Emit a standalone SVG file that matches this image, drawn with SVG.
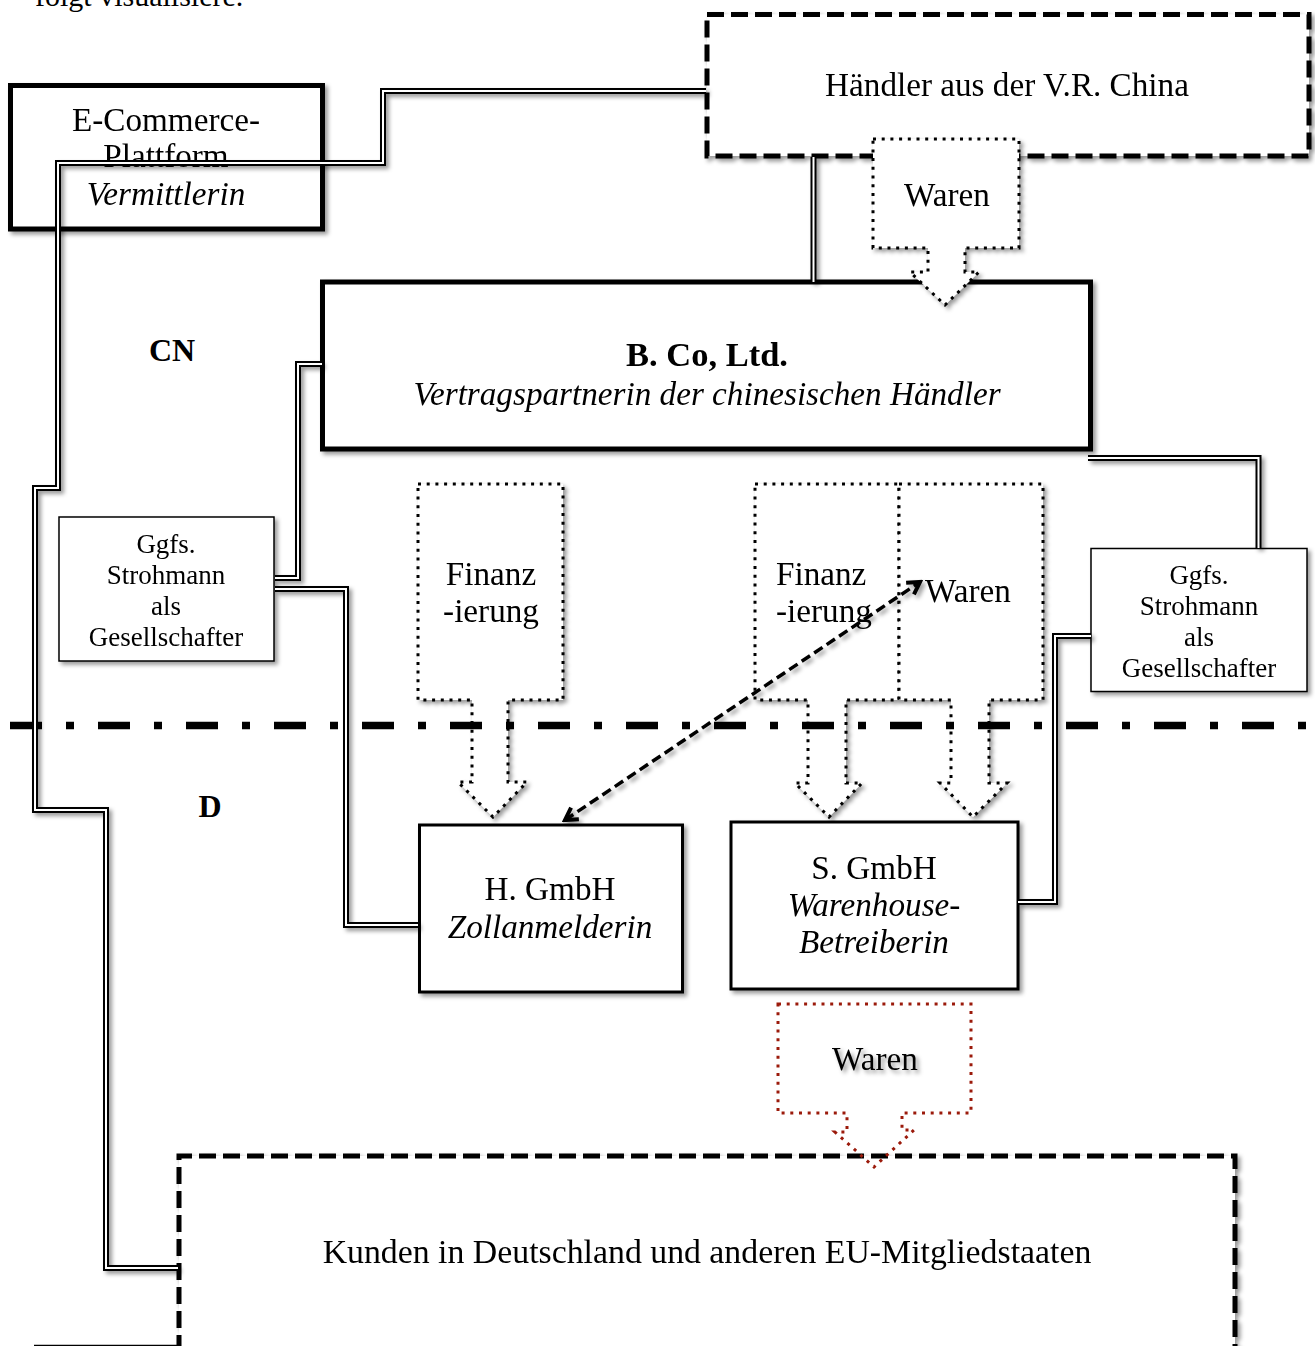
<svg xmlns="http://www.w3.org/2000/svg" xmlns:xlink="http://www.w3.org/1999/xlink" width="1315" height="1346" viewBox="0 0 1315 1346">
<style>
text{font-family:"Liberation Serif","Times New Roman",serif;fill:#000}
.t{font-size:33.2px;text-anchor:middle}
.ts{font-size:27px;text-anchor:middle}
.it{font-style:italic}
.b{font-weight:bold}
.thick{fill:#fff;stroke:#000;stroke-width:5}
.dash{fill:#fff;stroke:#000;stroke-width:5;stroke-dasharray:17 7}
.mid{fill:#fff;stroke:#000;stroke-width:3}
.thin{fill:#fff;stroke:#000;stroke-width:1.5}
.dot{fill:#fff;stroke:#000;stroke-width:3;stroke-dasharray:3 5.7}
.dotr{fill:none;stroke:#9b1a0b;stroke-width:3;stroke-dasharray:3 5.7}
.out{fill:none;stroke:#000;stroke-width:6}
.in{fill:none;stroke:#fff;stroke-width:2}
</style>
<defs>
<filter id="sh" filterUnits="userSpaceOnUse" x="0" y="0" width="1315" height="1346">
<feDropShadow dx="3" dy="3" stdDeviation="2" flood-color="#000" flood-opacity="0.4"/>
</filter>
<marker id="chev" markerUnits="userSpaceOnUse" viewBox="0 0 20 20" refX="17" refY="10" markerWidth="20" markerHeight="20" orient="auto-start-reverse">
<path d="M5,3 L17,10 L5,17" fill="none" stroke="#000" stroke-width="4" stroke-dasharray="none" stroke-linejoin="miter"/>
</marker>
<path id="c1" d="M706,91 H383 V163 H58 V488 H35 V810 H106 V1268 H178"/>
<path id="c2" d="M813.5,157 V282"/>
<path id="c3" d="M322,364 H298 V578 H275"/>
<path id="c4" d="M275,589 H346 V925 H418"/>
<path id="c5" d="M1088,458 H1258.5 V548"/>
<path id="c6" d="M1091,636 H1055 V902 H1018"/>
</defs>

<text x="35" y="6" style="font-size:30px">folgt visualisiere.</text>

<g id="kunden" filter="url(#sh)">
<path class="dash" d="M179,1400 V1156 H1235 V1400"/>
<text class="t" x="707" y="1263" style="font-size:33.8px">Kunden in Deutschland und anderen EU-Mitgliedstaaten</text>
</g>
<line x1="34" y1="1345.5" x2="178" y2="1345.5" stroke="#000" stroke-width="1.5"/>

<g id="ecommerce" filter="url(#sh)">
<rect class="thick" x="10.5" y="85.5" width="312" height="143.5"/>
<text class="t" x="166" y="131">E-Commerce-</text>
<text class="t" x="166" y="167">Plattform</text>
<text class="t it" x="166" y="205">Vermittlerin</text>
</g>

<g id="haendler" filter="url(#sh)">
<rect class="dash" x="707" y="14.5" width="602" height="141.5"/>
<text class="t" x="1007" y="96">Händler aus der V.R. China</text>
</g>

<g id="bco" filter="url(#sh)">
<rect class="thick" x="322.5" y="282" width="768" height="167"/>
<text class="t b" x="707" y="366" style="font-size:34.5px">B. Co, Ltd.</text>
<text class="t it" x="707" y="405">Vertragspartnerin der chinesischen Händler</text>
</g>

<g id="waren-top" filter="url(#sh)">
<path class="dot" d="M873,139 H1019 V248 H965 V272 H979 L945,305 L910,272 H928 V248 H873 Z"/>
<text class="t" x="947" y="206">Waren</text>
</g>

<g id="labels">
<text class="t b" x="172" y="361" style="font-size:32px">CN</text>
<text class="t b" x="210" y="817" style="font-size:32px">D</text>
</g>

<g id="strohmann-left" filter="url(#sh)">
<rect class="thin" x="59" y="517" width="215" height="144"/>
<text class="ts" x="166" y="553">Ggfs.</text>
<text class="ts" x="166" y="584">Strohmann</text>
<text class="ts" x="166" y="615">als</text>
<text class="ts" x="166" y="646">Gesellschafter</text>
</g>

<g id="strohmann-right" filter="url(#sh)">
<rect class="thin" x="1091" y="548.5" width="216" height="143"/>
<text class="ts" x="1199" y="584">Ggfs.</text>
<text class="ts" x="1199" y="615">Strohmann</text>
<text class="ts" x="1199" y="646">als</text>
<text class="ts" x="1199" y="677">Gesellschafter</text>
</g>

<g id="finanz-1" filter="url(#sh)">
<path class="dot" d="M418,484 H563 V700 H508 V782 H527 L493,817 L458,782 H472 V700 H418 Z"/>
<text class="t" x="491" y="585">Finanz</text>
<text class="t" x="491" y="622">-ierung</text>
</g>

<g id="finanz-2" filter="url(#sh)">
<path class="dot" d="M755,484 H899 V700 H846 V783 H862 L829,817 L795,783 H808 V700 H755 Z"/>
<text x="776" y="585" style="font-size:33.2px">Finanz</text>
<text x="776" y="622" style="font-size:33.2px">-ierung</text>
</g>

<g id="waren-mid" filter="url(#sh)">
<path class="dot" d="M899,484 H1043 V700 H989 V783 H1007 L973,817 L940,783 H951 V700 H899 Z"/>
<text x="925" y="602" style="font-size:33.2px">Waren</text>
</g>

<g id="hgmbh" filter="url(#sh)">
<rect class="mid" x="419.5" y="825" width="263" height="167"/>
<text class="t" x="550" y="900">H. GmbH</text>
<text class="t it" x="550" y="938">Zollanmelderin</text>
</g>

<g id="sgmbh" filter="url(#sh)">
<rect class="mid" x="731" y="822" width="287" height="167"/>
<text class="t" x="874" y="879">S. GmbH</text>
<text class="t it" x="874" y="916">Warenhouse-</text>
<text class="t it" x="874" y="953">Betreiberin</text>
</g>

<g id="waren-bottom">
<path class="dotr" d="M778,1004 H971 V1113 H902 V1130 H914 L874,1167 L835,1132 H847 V1113 H778 Z"/>
<text class="t" x="875" y="1070" filter="url(#sh)">Waren</text>
</g>

<g id="border-line">
<line x1="10" y1="725.5" x2="1310" y2="725.5" stroke="#000" stroke-width="7.5" stroke-dasharray="32 24 8 24"/>
</g>

<g id="connectors" filter="url(#sh)">
<use xlink:href="#c1" class="out"/><use xlink:href="#c1" class="in"/>
<use xlink:href="#c2" class="out"/><use xlink:href="#c2" class="in"/>
<use xlink:href="#c3" class="out"/><use xlink:href="#c3" class="in"/>
<use xlink:href="#c4" class="out"/><use xlink:href="#c4" class="in"/>
<use xlink:href="#c5" class="out"/><use xlink:href="#c5" class="in"/>
<use xlink:href="#c6" class="out"/><use xlink:href="#c6" class="in"/>
<line x1="565" y1="820" x2="920" y2="582" stroke="#000" stroke-width="3.5" stroke-dasharray="10 5" marker-start="url(#chev)" marker-end="url(#chev)"/>
</g>
</svg>
